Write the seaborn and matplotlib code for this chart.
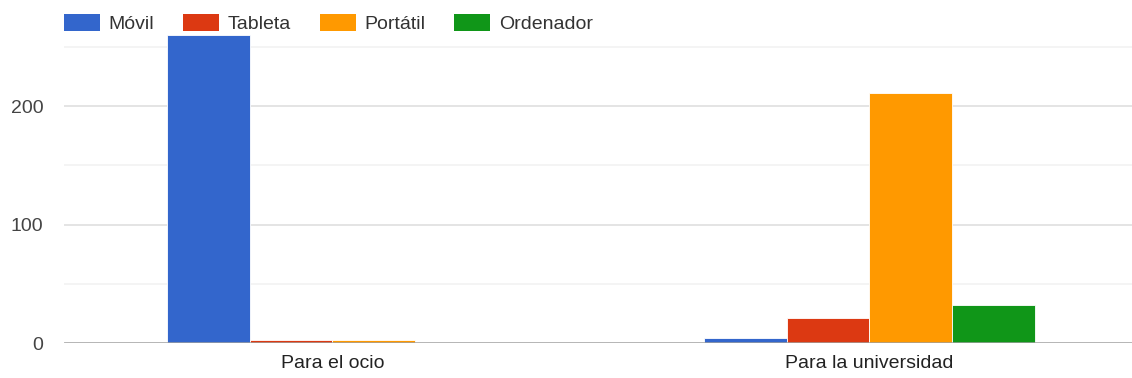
import matplotlib
matplotlib.use("Agg")
import matplotlib.pyplot as plt
import seaborn as sns
import pandas as pd
from matplotlib.patches import Patch

categories = ["Para el ocio", "Para la universidad"]
series = ["Móvil", "Tableta", "Portátil", "Ordenador"]
movil = [260, 4.5]
tableta = [2.5, 21]
portatil = [2.5, 211]
ordenador = [0, 32]
colors = ["#3366cc", "#dc3912", "#ff9900", "#109618"]

rows = []
for s, vals in zip(series, [movil, tableta, portatil, ordenador]):
    for c, v in zip(categories, vals):
        rows.append({"cat": c, "serie": s, "valor": v})
df = pd.DataFrame(rows)

sns.set_theme(style="white")
plt.rcParams["font.family"] = ["Liberation Sans", "DejaVu Sans"]

fig = plt.figure(figsize=(11.32, 3.78), dpi=100)
ax = fig.add_axes([64 / 1132, 35 / 378, 1 - 64 / 1132, 308 / 378])

sns.barplot(data=df, x="cat", y="valor", hue="serie", hue_order=series,
            order=categories, palette=colors, width=0.615, ax=ax,
            edgecolor="white", linewidth=0.6, errorbar=None, legend=False,
            saturation=1)

ax.set_xlim(-0.5, 1.489)
ax.set_ylim(0, 260)
for y in [50, 150, 250]:
    ax.axhline(y, color="#f2f2f2", lw=1.2, zorder=0)
for y in [100, 200]:
    ax.axhline(y, color="#e4e4e4", lw=1.4, zorder=0)
ax.axhline(0, color="#a0a0a0", lw=1.8, zorder=3)

ax.set_yticks([0, 100, 200])
ax.set_yticklabels(["0", "100", "200"], fontsize=14, color="#444444")
ax.tick_params(axis="y", length=0, pad=15)
ax.tick_params(axis="x", length=0, pad=9, labelsize=14, labelcolor="#222222")
ax.set_xlabel("")
ax.set_ylabel("")
for sp in ax.spines.values():
    sp.set_visible(False)

handles = [Patch(facecolor=c, edgecolor="none") for c in colors]
fig.legend(handles, series, loc="center left", bbox_to_anchor=(64 / 1132, 1 - 23.5 / 378),
           ncol=4, frameon=False, fontsize=14, handlelength=1.85, handleheight=1.0,
           handletextpad=0.45, columnspacing=1.48, labelcolor="#333333",
           borderaxespad=0, borderpad=0)

fig.savefig("out.png", dpi=100)
